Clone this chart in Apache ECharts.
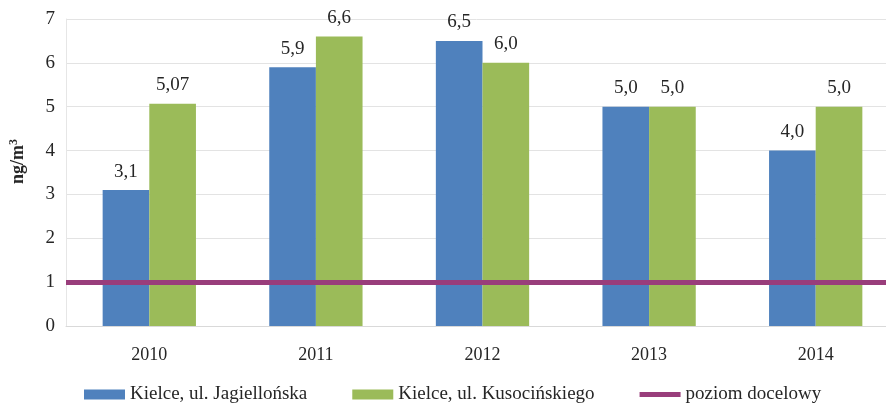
<!DOCTYPE html>
<html>
<head>
<meta charset="utf-8">
<script src="https://cdn.jsdelivr.net/npm/echarts@6/dist/echarts.min.js"></script>
<style>html,body{margin:0;padding:0;background:#fff}#c{width:886px;height:405px}</style>
</head>
<body>
<div id="c"></div>
<script>
const categories = ['2010', '2011', '2012', '2013', '2014'];
const jagiellonska = [3.1, 5.9, 6.5, 5.0, 4.0];
const kusocinskiego = [5.07, 6.6, 6.0, 5.0, 5.0];
const targetLevel = 1;
const seriesNames = ['Kielce, ul. Jagiellońska', 'Kielce, ul. Kusocińskiego', 'poziom docelowy'];
const yTicks = { min: 0, max: 7, interval: 1 };

const FONT = '"Liberation Serif", "Times New Roman", serif';
const TXT = '#262626';
const fmt = v => (Math.abs(Math.round(v * 10) - v * 10) < 1e-9 ? v.toFixed(1) : v.toFixed(2)).replace('.', ',');

const chart = echarts.init(document.getElementById('c'), null, { renderer: 'canvas' });
const labelCfg = {
  show: true, position: 'top', distance: 9,
  fontFamily: FONT, fontSize: 19, color: TXT,
  formatter: p => fmt(p.value)
};
chart.setOption({
  animation: false,
  textStyle: { fontFamily: FONT },
  grid: { left: 66, right: -13, top: 19, bottom: 79, containLabel: false, outerBoundsMode: 'none' },
  legend: {
    left: 84, top: 385, padding: 0,
    itemWidth: 41, itemHeight: 10, itemGap: 45,
    textStyle: { fontFamily: FONT, fontSize: 19, color: TXT },
    data: [
      { name: seriesNames[0], icon: 'rect' },
      { name: seriesNames[1], icon: 'rect' },
      { name: seriesNames[2], icon: 'path://M0,0H41V5H0Z' }
    ]
  },
  xAxis: {
    type: 'category', data: categories,
    axisLine: { lineStyle: { color: '#d9d9d9' } },
    axisTick: { show: false },
    axisLabel: { fontFamily: FONT, fontSize: 18, color: TXT, margin: 20 }
  },
  yAxis: {
    type: 'value', min: yTicks.min, max: yTicks.max, interval: yTicks.interval,
    name: 'ng/m{sup|3}', nameLocation: 'middle', nameGap: 38, nameRotate: 90,
    nameTextStyle: {
      fontFamily: FONT, fontSize: 18, fontWeight: 'bold', color: TXT,
      padding: [0, 0, 0, 22],
      rich: { sup: { fontFamily: FONT, fontSize: 12, fontWeight: 'bold', color: TXT, verticalAlign: 'top', padding: [0, 0, 8, 0] } }
    },
    axisLine: { show: true, lineStyle: { color: '#e6e6e6' } },
    axisTick: { show: false },
    splitLine: { lineStyle: { color: '#e3e3e3' } },
    axisLabel: { fontFamily: FONT, fontSize: 19, color: TXT, margin: 11 }
  },
  series: [
    {
      name: seriesNames[0], type: 'bar', data: jagiellonska,
      barGap: '0%', barCategoryGap: '44%',
      itemStyle: { color: '#4f81bd' }, label: labelCfg
    },
    {
      name: seriesNames[1], type: 'bar', data: kusocinskiego,
      itemStyle: { color: '#9bbb59' }, label: labelCfg
    },
    {
      name: seriesNames[2], type: 'line', data: [],
      symbol: 'none', showSymbol: false,
      lineStyle: { color: '#993d7b', width: 5 },
      itemStyle: { color: '#993d7b' },
      markLine: {
        silent: true, symbol: ['none', 'none'], z: 10,
        label: { show: false },
        lineStyle: { color: '#993d7b', width: 5, type: 'solid' },
        data: [{ yAxis: targetLevel }]
      },
      z: 10
    }
  ]
});
</script>
</body>
</html>
